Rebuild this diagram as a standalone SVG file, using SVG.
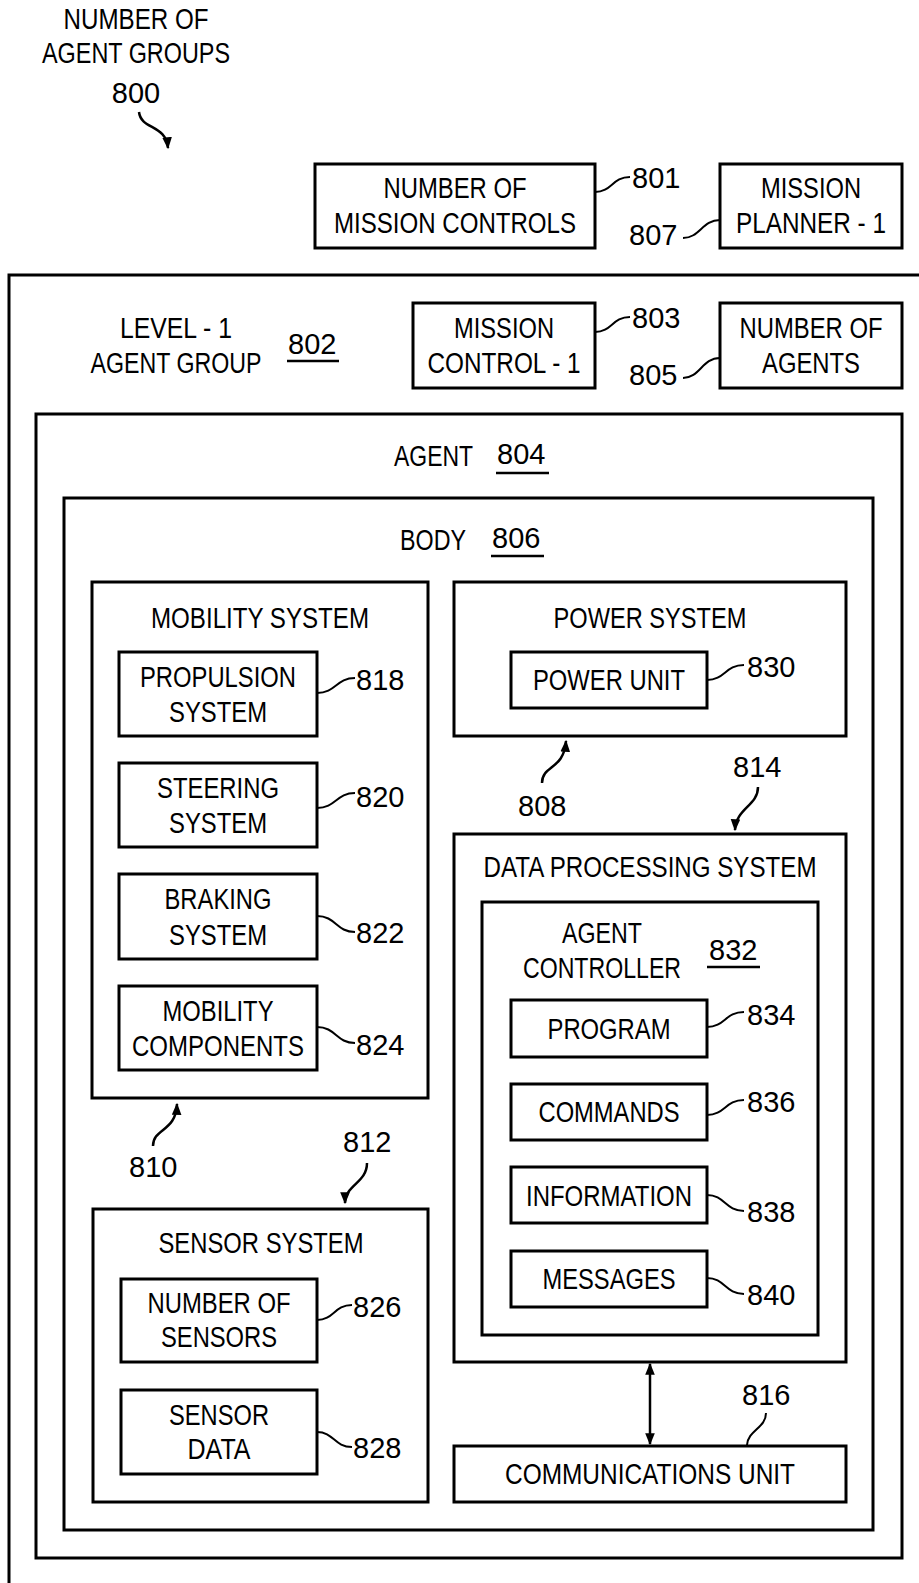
<svg xmlns="http://www.w3.org/2000/svg" width="919" height="1583" viewBox="0 0 919 1583">
<style>
text{font-family:"Liberation Sans",Arial,sans-serif;font-size:29px;fill:#000}
.c{text-anchor:middle}
.box{fill:none;stroke:#000;stroke-width:3}
.ld{fill:none;stroke:#000;stroke-width:2}
.ul{stroke:#000;stroke-width:2.5}
.ar{fill:none;stroke:#000;stroke-width:2.5}
</style>
<defs>
<marker id="ah" viewBox="0 0 10 8" refX="9" refY="4" markerWidth="12" markerHeight="10" markerUnits="userSpaceOnUse" orient="auto-start-reverse"><path d="M0,0 L10,4 L0,8 z" fill="#000"/></marker>
</defs>
<rect width="919" height="1583" fill="#fff"/>
<g id="title800">
<text class="c" x="136" y="29" textLength="145" lengthAdjust="spacingAndGlyphs">NUMBER OF</text>
<text class="c" x="136" y="63" textLength="188" lengthAdjust="spacingAndGlyphs">AGENT GROUPS</text>
<text class="c" x="136" y="103">800</text>
</g>
<g id="n801"><rect class="box" x="315" y="164" width="280" height="84"/><text class="c" x="455" y="198" textLength="143" lengthAdjust="spacingAndGlyphs">NUMBER OF</text><text class="c" x="455" y="233" textLength="242" lengthAdjust="spacingAndGlyphs">MISSION CONTROLS</text><text x="632" y="188">801</text></g>
<g id="n807"><rect class="box" x="720" y="164" width="182" height="84"/><text class="c" x="811" y="198" textLength="100" lengthAdjust="spacingAndGlyphs">MISSION</text><text class="c" x="811" y="233" textLength="150" lengthAdjust="spacingAndGlyphs">PLANNER - 1</text><text x="629" y="245">807</text></g>
<g id="n802"><rect class="box" x="9" y="275" width="940" height="1400"/><text class="c" x="176" y="338" textLength="112" lengthAdjust="spacingAndGlyphs">LEVEL - 1</text><text class="c" x="176" y="373" textLength="171" lengthAdjust="spacingAndGlyphs">AGENT GROUP</text><text x="288" y="354">802</text><line class="ul" x1="287" y1="361" x2="339" y2="361"/></g>
<g id="n803"><rect class="box" x="413" y="303" width="182" height="85"/><text class="c" x="504" y="338" textLength="100" lengthAdjust="spacingAndGlyphs">MISSION</text><text class="c" x="504" y="373" textLength="153" lengthAdjust="spacingAndGlyphs">CONTROL - 1</text><text x="632" y="328">803</text></g>
<g id="n805"><rect class="box" x="720" y="303" width="182" height="85"/><text class="c" x="811" y="338" textLength="143" lengthAdjust="spacingAndGlyphs">NUMBER OF</text><text class="c" x="811" y="373" textLength="98" lengthAdjust="spacingAndGlyphs">AGENTS</text><text x="629" y="385">805</text></g>
<g id="n804"><rect class="box" x="36" y="414" width="866" height="1144"/><text x="394" y="466" textLength="79" lengthAdjust="spacingAndGlyphs">AGENT</text><text x="497" y="464">804</text><line class="ul" x1="496" y1="473" x2="549" y2="473"/></g>
<g id="n806"><rect class="box" x="64" y="498" width="809" height="1032"/><text x="400" y="550" textLength="66" lengthAdjust="spacingAndGlyphs">BODY</text><text x="492" y="548">806</text><line class="ul" x1="491" y1="556" x2="544" y2="556"/></g>
<g id="mobility"><rect class="box" x="92" y="582" width="336" height="516"/><text class="c" x="260" y="628" textLength="218" lengthAdjust="spacingAndGlyphs">MOBILITY SYSTEM</text></g>
<g id="n818"><rect class="box" x="119" y="652" width="198" height="84"/><text class="c" x="218" y="687" textLength="156" lengthAdjust="spacingAndGlyphs">PROPULSION</text><text class="c" x="218" y="722" textLength="98" lengthAdjust="spacingAndGlyphs">SYSTEM</text><text x="356" y="690">818</text></g>
<g id="n820"><rect class="box" x="119" y="763" width="198" height="84"/><text class="c" x="218" y="798" textLength="122" lengthAdjust="spacingAndGlyphs">STEERING</text><text class="c" x="218" y="833" textLength="98" lengthAdjust="spacingAndGlyphs">SYSTEM</text><text x="356" y="807">820</text></g>
<g id="n822"><rect class="box" x="119" y="874" width="198" height="85"/><text class="c" x="218" y="909" textLength="107" lengthAdjust="spacingAndGlyphs">BRAKING</text><text class="c" x="218" y="945" textLength="98" lengthAdjust="spacingAndGlyphs">SYSTEM</text><text x="356" y="943">822</text></g>
<g id="n824"><rect class="box" x="119" y="986" width="198" height="84"/><text class="c" x="218" y="1021" textLength="111" lengthAdjust="spacingAndGlyphs">MOBILITY</text><text class="c" x="218" y="1056" textLength="172" lengthAdjust="spacingAndGlyphs">COMPONENTS</text><text x="356" y="1055">824</text></g>
<g id="power"><rect class="box" x="454" y="582" width="392" height="154"/><text class="c" x="650" y="628" textLength="193" lengthAdjust="spacingAndGlyphs">POWER SYSTEM</text></g>
<g id="n830"><rect class="box" x="511" y="652" width="196" height="56"/><text class="c" x="609" y="690" textLength="152" lengthAdjust="spacingAndGlyphs">POWER UNIT</text><text x="747" y="677">830</text></g>
<g id="dps"><rect class="box" x="454" y="834" width="392" height="528"/><text class="c" x="650" y="877" textLength="333" lengthAdjust="spacingAndGlyphs">DATA PROCESSING SYSTEM</text></g>
<g id="n832"><rect class="box" x="482" y="902" width="336" height="433"/><text class="c" x="602" y="943" textLength="80" lengthAdjust="spacingAndGlyphs">AGENT</text><text class="c" x="602" y="978" textLength="158" lengthAdjust="spacingAndGlyphs">CONTROLLER</text><text x="709" y="960">832</text><line class="ul" x1="707" y1="967" x2="760" y2="967"/></g>
<g id="n834"><rect class="box" x="511" y="1000" width="196" height="57"/><text class="c" x="609" y="1039" textLength="123" lengthAdjust="spacingAndGlyphs">PROGRAM</text><text x="747" y="1025">834</text></g>
<g id="n836"><rect class="box" x="511" y="1084" width="196" height="56"/><text class="c" x="609" y="1122" textLength="141" lengthAdjust="spacingAndGlyphs">COMMANDS</text><text x="747" y="1112">836</text></g>
<g id="n838"><rect class="box" x="511" y="1167" width="196" height="56"/><text class="c" x="609" y="1206" textLength="166" lengthAdjust="spacingAndGlyphs">INFORMATION</text><text x="747" y="1222">838</text></g>
<g id="n840"><rect class="box" x="511" y="1251" width="196" height="56"/><text class="c" x="609" y="1289" textLength="133" lengthAdjust="spacingAndGlyphs">MESSAGES</text><text x="747" y="1305">840</text></g>
<g id="sensor"><rect class="box" x="93" y="1209" width="335" height="293"/><text class="c" x="261" y="1253" textLength="205" lengthAdjust="spacingAndGlyphs">SENSOR SYSTEM</text></g>
<g id="n826"><rect class="box" x="121" y="1279" width="196" height="83"/><text class="c" x="219" y="1313" textLength="143" lengthAdjust="spacingAndGlyphs">NUMBER OF</text><text class="c" x="219" y="1347" textLength="116" lengthAdjust="spacingAndGlyphs">SENSORS</text><text x="353" y="1317">826</text></g>
<g id="n828"><rect class="box" x="121" y="1390" width="196" height="84"/><text class="c" x="219" y="1425" textLength="100" lengthAdjust="spacingAndGlyphs">SENSOR</text><text class="c" x="219" y="1459" textLength="63" lengthAdjust="spacingAndGlyphs">DATA</text><text x="353" y="1458">828</text></g>
<g id="n816"><rect class="box" x="454" y="1446" width="392" height="56"/><text class="c" x="650" y="1484" textLength="290" lengthAdjust="spacingAndGlyphs">COMMUNICATIONS UNIT</text><text x="742" y="1405">816</text></g>
<g id="labels">
<text x="518" y="816">808</text>
<text x="733" y="777">814</text>
<text x="129" y="1177">810</text>
<text x="343" y="1152">812</text>
</g>
<g id="connectors">
<path class="ld" d="M595,192 C612,192 612,177 630,177"/>
<path class="ld" d="M683,238 C700,238 702,220 720,220"/>
<path class="ld" d="M595,332 C612,332 612,317 630,317"/>
<path class="ld" d="M683,378 C700,378 702,358 720,358"/>
<path class="ld" d="M317,693 C336,693 336,678 355,678"/>
<path class="ld" d="M317,808 C336,808 336,793 355,793"/>
<path class="ld" d="M317,916 C336,916 336,932 355,932"/>
<path class="ld" d="M317,1027 C336,1027 336,1043 355,1043"/>
<path class="ld" d="M707,680 C725,680 725,665 744,665"/>
<path class="ld" d="M707,1027 C725,1027 725,1012 744,1012"/>
<path class="ld" d="M707,1115 C725,1115 725,1100 744,1100"/>
<path class="ld" d="M707,1195 C725,1195 725,1211 744,1211"/>
<path class="ld" d="M707,1278 C725,1278 725,1294 744,1294"/>
<path class="ld" d="M317,1320 C334,1320 334,1305 352,1305"/>
<path class="ld" d="M317,1432 C334,1432 334,1447 352,1447"/>
<path class="ld" d="M766,1413 C766,1428 748,1430 747,1445"/>
<path class="ar" d="M139,112 C141,130 166,124 168,148" marker-end="url(#ah)"/>
<path class="ar" d="M542,783 C542,765 564,770 566,741" marker-end="url(#ah)"/>
<path class="ar" d="M758,787 C758,806 736,808 735,830" marker-end="url(#ah)"/>
<path class="ar" d="M153,1146 C153,1128 176,1132 177,1104" marker-end="url(#ah)"/>
<path class="ar" d="M367,1163 C367,1183 345,1185 345,1203" marker-end="url(#ah)"/>
<line class="ar" x1="650" y1="1364" x2="650" y2="1444" marker-start="url(#ah)" marker-end="url(#ah)"/>
</g>
</svg>
